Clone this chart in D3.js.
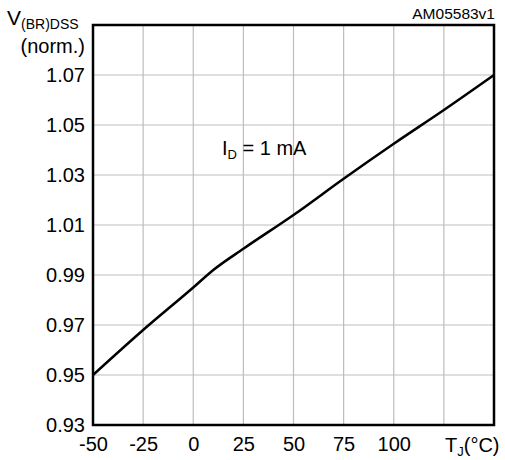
<!DOCTYPE html>
<html>
<head>
<meta charset="utf-8">
<script src="https://cdn.jsdelivr.net/npm/d3@7"></script>
<style>
  body { margin: 0; background: #fff; }
  text { font-family: "Liberation Sans", Arial, sans-serif; fill: #000; }
</style>
</head>
<body>
<script>
const w = 505; // width
const h = 460; // height
const m = {left: 93, right: 11, top: 25, bottom: 35};

// data
const temps = [-50, -25, 0, 10, 25, 50, 75, 100, 125, 150];
const vNorm = [0.950, 0.968, 0.985, 0.992, 1.0005, 1.014, 1.0285, 1.0425, 1.056, 1.070];
const xTicks = [-50, -25, 0, 25, 50, 75, 100];
const xGrid = [-25, 0, 25, 50, 75, 100, 125];
const yTicks = [0.93, 0.95, 0.97, 0.99, 1.01, 1.03, 1.05, 1.07];

let svg = d3.select("body")
    .append("svg")
    .attr("width", w)
    .attr("height", h);

// scales
let x = d3.scaleLinear()
    .domain([-50, 150])
    .range([m.left, w - m.right]);

let y = d3.scaleLinear()
    .domain([0.93, 1.09])
    .range([h - m.bottom, m.top]);

// grid
svg.append("g")
    .selectAll("line")
    .data(xGrid)
    .enter()
    .append("line")
    .attr("x1", d => x(d)).attr("x2", d => x(d))
    .attr("y1", y(0.93)).attr("y2", y(1.09))
    .attr("stroke", "#bdbdbd").attr("stroke-width", 1.2);

svg.append("g")
    .selectAll("line")
    .data(yTicks.slice(1))
    .enter()
    .append("line")
    .attr("x1", x(-50)).attr("x2", x(150))
    .attr("y1", d => y(d)).attr("y2", d => y(d))
    .attr("stroke", "#bdbdbd").attr("stroke-width", 1.2);

// curve
let line = d3.line()
    .x((d, i) => x(temps[i]))
    .y(d => y(d))
    .curve(d3.curveMonotoneX);

svg.append("path")
    .datum(vNorm)
    .attr("d", line)
    .attr("fill", "none")
    .attr("stroke", "#000")
    .attr("stroke-width", 2.5)
    .attr("stroke-linejoin", "round");

// frame
svg.append("rect")
    .attr("x", x(-50))
    .attr("y", y(1.09))
    .attr("width", x(150) - x(-50))
    .attr("height", y(0.93) - y(1.09))
    .attr("fill", "none")
    .attr("stroke", "#000")
    .attr("stroke-width", 2.5);

// x axis labels
let axisX = d3.axisBottom(x)
    .tickValues(xTicks)
    .tickSize(0)
    .tickPadding(12)
    .tickFormat(d => d);
let gX = svg.append("g")
    .attr("transform", `translate(0,${h - m.bottom})`)
    .call(axisX);
gX.select(".domain").remove();
gX.selectAll("text").attr("font-size", 20).attr("font-family", null);

// y axis labels
let axisY = d3.axisLeft(y)
    .tickValues(yTicks)
    .tickSize(0)
    .tickPadding(8)
    .tickFormat(d3.format(".2f"));
let gY = svg.append("g")
    .attr("transform", `translate(${m.left},0)`)
    .call(axisY);
gY.select(".domain").remove();
gY.selectAll("text").attr("font-size", 20).attr("font-family", null);

// y title
let yt = svg.append("text")
    .attr("x", 7)
    .attr("y", 25)
    .attr("font-size", 21);
yt.append("tspan").text("V");
yt.append("tspan").attr("font-size", 14).attr("dy", 4).text("(BR)DSS");

svg.append("text")
    .attr("x", 85)
    .attr("y", 53)
    .attr("text-anchor", "end")
    .attr("font-size", 20)
    .text("(norm.)");

// x title
let xt = svg.append("text")
    .attr("x", 445)
    .attr("y", 452)
    .attr("font-size", 20);
xt.append("tspan").text("T");
xt.append("tspan").attr("font-size", 13).attr("dy", 4).text("J");
xt.append("tspan").attr("dy", -4).text("(°C)");

// figure code
svg.append("text")
    .attr("x", w - 10)
    .attr("y", 19)
    .attr("text-anchor", "end")
    .attr("font-size", 15.5)
    .text("AM05583v1");

// condition label
let lab = svg.append("text")
    .attr("x", 222)
    .attr("y", 155)
    .attr("font-size", 20);
lab.append("tspan").text("I");
lab.append("tspan").attr("font-size", 13).attr("dy", 4).text("D");
lab.append("tspan").attr("dy", -4).text(" = 1 mA");
</script>
</body>
</html>
